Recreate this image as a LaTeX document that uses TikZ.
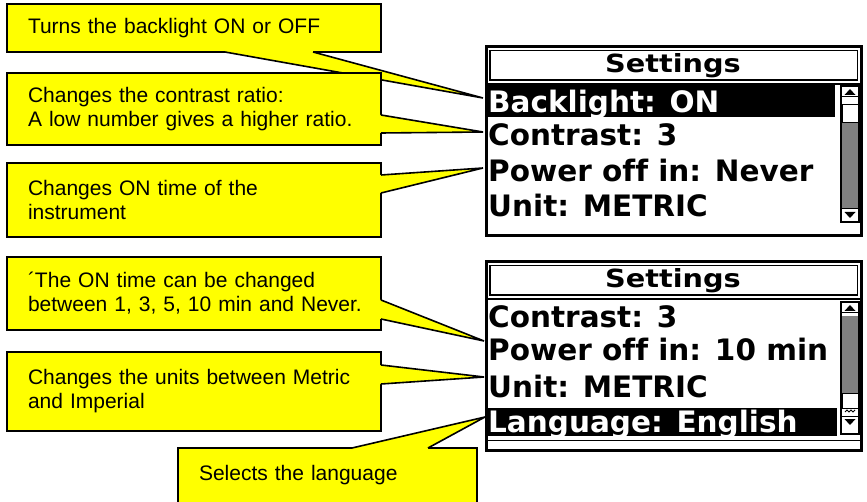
\documentclass[tikz,border=0pt]{standalone}
\usepackage{fontspec}
\setmainfont{Liberation Sans}
\newfontfamily\lcdfont{DejaVu Sans}[Ligatures=NoCommon]
\usetikzlibrary{calc}
\definecolor{noteyellow}{RGB}{255,255,0}
\tikzset{
  note/.style={rectangle, draw=black, line width=1.6pt, fill=noteyellow, anchor=north west,
    outer sep=0pt, inner xsep=21pt, text width=332pt, minimum width=374pt, align=left,
    font=\fontsize{21}{24}\selectfont},
  noteline/.style={draw=black, line width=1.6pt, line join=miter},
  screen/.style={rectangle, draw=black, line width=3pt, minimum width=375pt, minimum height=189pt, inner sep=0pt},
  lcd/.style={font=\lcdfont\bfseries\fontsize{29.5}{32}\selectfont, inner sep=0pt, anchor=base west},
  lcdtitle/.style={font=\lcdfont\bfseries\fontsize{25}{28}\selectfont, inner sep=0pt, anchor=base},
  sbar/.style={draw=black, line width=1.2pt, fill=white}
}
\newcommand{\calltail}[4]{%
  \fill[noteyellow] ($(#1)+#4$) -- (#1) -- (#2) -- (#3) -- ($(#3)+#4$) -- cycle;
  \draw[noteline] (#1) -- (#2) -- (#3);}
\begin{document}
\begin{tikzpicture}[x=1pt,y=-1pt]
\clip (0,0) rectangle (867,502);
% the two screens
\foreach \dy/\nm in {0/one,215/two}{
  \begin{scope}[shift={(0,\dy)}]
    \node[screen] (screen \nm) at (673.5,141) {};
    \draw[line width=1.2pt] (490,50.5) rectangle (857.5,80);
    \draw[line width=2pt] (486,84) -- (861,84);
    \node[lcdtitle] (title \nm) at (673,73) {\scalebox{1.15}[1]{Settings}};
  \end{scope}
}
\fill[black] (487,85) rectangle (835,117);
\node[lcd, text=white] (light row) at (488,113) {Backlight: ON};
\node[lcd] (contrast row) at (488,146) {Contrast: 3};
\node[lcd] (power row) at (488,182) {Power off in: Never};
\node[lcd] (unit row) at (488,217) {Unit: METRIC};
\node[lcd] (contrast row two) at (488,327) {Contrast: 3};
\node[lcd] (power row two) at (488,360) {Power off in: 10 min};
\node[lcd] (unit row two) at (488,397) {Unit: METRIC};
\fill[black] (487,408) rectangle (837,436);
\node[lcd, text=white] (lang row) at (488,432) {Language: English};
\draw[line width=1pt] (487,440) -- (860,440);
% scroll bars
\draw[sbar] (841,86) rectangle (859,222);
\fill[black!50] (842,123) rectangle (858,209);
\draw[line width=1pt] (842,105) rectangle (858,123);
\draw[line width=1pt] (841,97) -- (859,97);
\draw[line width=1pt] (841,209) -- (859,209);
\fill (850,89) -- (855.5,95) -- (844.5,95) -- cycle;
\fill (844.5,212) -- (855.5,212) -- (850,218) -- cycle;
\draw[sbar] (841,302) rectangle (859,434);
\fill (850,305) -- (855.5,311) -- (844.5,311) -- cycle;
\draw[line width=1pt] (841,313) -- (859,313);
\fill[black!50] (842,316) rectangle (858,393);
\draw[line width=1pt] (842,393) rectangle (858,408);
\draw[line width=.8pt] (845,412) -- (847,410) -- (849,412) -- (851,410) -- (853,412) -- (855,410);
\draw[line width=1pt] (841,416) -- (859,416);
\fill (844.5,419) -- (855.5,419) -- (850,425) -- cycle;
% tips
\coordinate (tip light) at (483,98);
\coordinate (tip contrast) at (483,132);
\coordinate (tip ontime) at (483,168);
\coordinate (tip steps) at (484,341);
\coordinate (tip units) at (484,377);
\coordinate (tip lang) at (485,417);
% callouts
\node[note, minimum height=48pt] (light) at (7,4) {Turns the backlight ON or OFF};
\coordinate (l1) at ($(light.south west)+(218,0)$);
\coordinate (l2) at ($(light.south west)+(306,0)$);
\calltail{l1}{tip light}{l2}{(0,-2)}
\node[note, minimum height=72pt] (contrast) at (7,73) {Changes the contrast ratio:\\A low number gives a higher ratio.};
\coordinate (c1) at ($(contrast.north east)+(0,42)$);
\coordinate (c2) at ($(contrast.north east)+(0,60)$);
\calltail{c1}{tip contrast}{c2}{(-2,0)}
\node[note, minimum height=74pt] (ontime) at (7,163) {Changes ON time of the\\instrument};
\coordinate (o1) at ($(ontime.north east)+(0,12)$);
\coordinate (o2) at ($(ontime.north east)+(0,30)$);
\calltail{o1}{tip ontime}{o2}{(-2,0)}
\node[note, minimum height=73pt] (steps) at (7,257) {´The ON time can be changed\\\mbox{between 1, 3, 5, 10 min and Never.}};
\coordinate (s1) at ($(steps.north east)+(0,43)$);
\coordinate (s2) at ($(steps.north east)+(0,62)$);
\calltail{s1}{tip steps}{s2}{(-2,0)}
\node[note, minimum height=79pt] (units) at (7,352) {Changes the units between Metric\\and Imperial};
\coordinate (u1) at ($(units.north east)+(0,13)$);
\coordinate (u2) at ($(units.north east)+(0,32)$);
\calltail{u1}{tip units}{u2}{(-2,0)}
\node[note, text width=257pt, minimum width=299pt, text height=15pt, text depth=45pt, inner ysep=17pt] (lang) at (178,448) {Selects the language};
\coordinate (g1) at ($(lang.north west)+(174,0)$);
\coordinate (g2) at ($(lang.north west)+(250,0)$);
\calltail{g1}{tip lang}{g2}{(0,2)}
\end{tikzpicture}
\end{document}
